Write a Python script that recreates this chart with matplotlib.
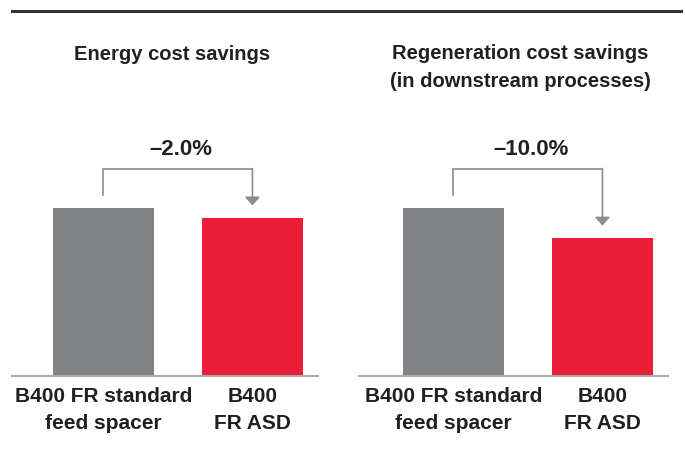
import matplotlib
matplotlib.use("Agg")
import matplotlib.pyplot as plt
from matplotlib.lines import Line2D

# Data (bar heights, index: standard spacer = 100)
categories = ["B400 FR standard\nfeed spacer", "B400\nFR ASD"]
energy_values = [100, 94]
regen_values = [100, 82]
panel_titles = ["Energy cost savings",
                "Regeneration cost savings\n(in downstream processes)"]
change_labels = ["\u20132.0%", "\u201310.0%"]

GRAY = "#808285"
RED = "#ed1c36"
TEXT = "#231f20"
BRACKET = "#8c8c8c"

plt.rcParams["font.family"] = ["Liberation Sans", "DejaVu Sans"]
plt.rcParams["font.weight"] = "bold"

W, H = 685, 451
fig = plt.figure(figsize=(W / 100, H / 100), dpi=100)

# axes boxes in pixels: left, right, bottom(from top), top(from top)
boxes = [(12, 318, 376, 140), (359, 668, 376, 140)]
title_pos = [(172, 54), (520, 67.5)]
gray_px = 168  # pixel height of the 100-bar

for i, values in enumerate([energy_values, regen_values]):
    l, r, b, t = boxes[i]
    ax = fig.add_axes([l / W, 1 - b / H, (r - l) / W, (b - t) / H])
    x = [0, 1]
    ax.bar(x, values, width=0.678, color=[GRAY, RED])
    ax.set_xlim(-0.614 if i == 0 else -0.634, 1.44)
    ax.set_ylim(0, 100 * (b - t) / gray_px)

    for s in ["top", "right", "left"]:
        ax.spines[s].set_visible(False)
    ax.spines["bottom"].set_color("#a7a9ac")
    ax.spines["bottom"].set_linewidth(1.5)
    ax.set_yticks([])
    ax.set_xticks(x, categories)
    ax.tick_params(axis="x", length=0, pad=8, labelsize=15, labelcolor=TEXT)
    for lab in ax.get_xticklabels():
        lab.set_linespacing(1.5)

    # bracket with arrow
    start = values[0] + 7.7
    top = 123.5
    tip = values[1] + 7.5
    ax.plot([0, 0, 1], [start, top, top], color=BRACKET, lw=1.2,
            solid_joinstyle="miter", clip_on=False)
    ax.annotate("", xy=(1, tip), xytext=(1, top),
                arrowprops=dict(arrowstyle="-|>,head_length=0.5,head_width=0.45",
                                color=BRACKET, lw=1.2, shrinkA=0, shrinkB=0))
    ax.text(0.52, top + 11.5, change_labels[i], ha="center", va="center",
            fontsize=16, color=TEXT, fontweight="bold")

    tx, ty = title_pos[i]
    fig.text(tx / W, 1 - ty / H, panel_titles[i], ha="center", va="center",
             fontsize=14.5, color=TEXT, fontweight="bold", linespacing=1.55)

# rule at the top
fig.add_artist(Line2D([12 / W, 681 / W], [1 - 10.5 / H, 1 - 10.5 / H],
                      color="#333333", lw=2.2))

fig.savefig("out.png", dpi=100)
